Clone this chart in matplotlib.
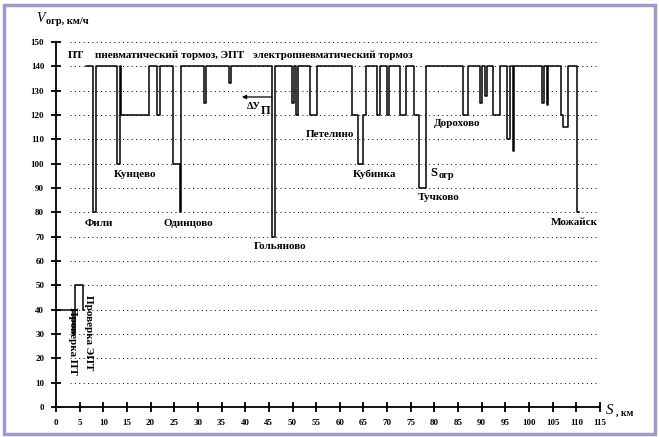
import numpy as np
import matplotlib.pyplot as plt
from matplotlib.patches import Rectangle

plt.rcParams['font.family'] = ['Liberation Serif', 'DejaVu Serif']

# участок проверки тормозов (км, скорость после точки)
proverka_km = [0.0, 3.6, 4.1, 5.8, 5.85]
proverka_v = [40, 30, 50, 40, 40]

# основной профиль ограничений скорости (км, скорость после точки)
profil_km = [6.3, 7.9, 8.5, 12.8, 13.5, 13.7, 19.7, 21.4, 22.0, 24.7, 26.2, 26.4,
             31.3, 31.7, 36.5, 37.0, 45.7, 46.3, 49.9, 50.3, 50.8, 51.2, 53.8, 55.2,
             62.6, 63.8, 65.0, 65.5, 67.8, 68.5, 70.0, 70.3, 72.7, 74.0, 75.6, 76.8,
             78.2, 86.0, 87.1, 89.6, 90.0, 90.7, 91.1, 92.4, 93.9, 95.3, 96.0, 96.6,
             96.9, 102.7, 103.1, 103.8, 104.0, 106.8, 107.2, 108.2, 110.1, 110.5]
profil_v = [140, 80, 140, 100, 140, 120, 140, 120, 140, 100, 80, 140,
            125, 140, 133, 140, 70, 140, 125, 140, 120, 140, 120, 140,
            120, 100, 120, 140, 120, 140, 120, 140, 120, 140, 120, 90,
            140, 120, 140, 125, 140, 128, 140, 120, 140, 110, 140, 105,
            140, 125, 140, 124, 140, 120, 115, 140, 80, 80]

# подписи станций: текст, км, скорость
stancii = ['Фили', 'Кунцево', 'Одинцово', 'Гольяново', 'Петелино',
           'Кубинка', 'Тучково', 'Дорохово', 'Можайск']
stancii_km = [9.0, 16.8, 27.9, 47.4, 58.0, 67.4, 81.0, 84.8, 109.6]
stancii_v = [75.5, 95.5, 75.5, 65.8, 112.0, 95.8, 86.3, 116.7, 76.0]

x_ticks = list(range(0, 120, 5))
y_ticks = list(range(0, 160, 10))

fig = plt.figure(figsize=(6.59, 4.37), dpi=100)
ax = fig.add_axes([56 / 659, 30 / 437, 544 / 659, 365 / 437])

# пунктирная сетка
for v in y_ticks[1:]:
    ax.plot([3, 115], [v, v], color='black', lw=0.7, linestyle=(0, (1, 3.5)), zorder=1)

ax.step(proverka_km, proverka_v, where='post', color='black', lw=1.1, zorder=3)
ax.step(profil_km, profil_v, where='post', color='black', lw=1.1, zorder=3)

ax.set_xlim(0, 115)
ax.set_ylim(0, 150)
ax.set_xticks(x_ticks)
ax.set_yticks(y_ticks)
ax.tick_params(direction='inout', length=7, width=1.3, labelsize=6.5, pad=5)
for lab in ax.get_xticklabels() + ax.get_yticklabels():
    lab.set_fontweight('bold')
for s in ['top', 'right']:
    ax.spines[s].set_visible(False)
for s in ['left', 'bottom']:
    ax.spines[s].set_linewidth(1.3)

# подписи
bold = dict(fontweight='bold', fontsize=8, color='black')
for name, km, v in zip(stancii, stancii_km, stancii_v):
    ax.text(km, v, name, ha='center', va='center', **bold)

ax.text(2.6, 144.5, 'ПТ', ha='left', va='center', **bold)
ax.text(8.3, 144.5, 'пневматический тормоз, ЭПТ', ha='left', va='center', **bold)
ax.text(41.6, 144.5, 'электропневматический тормоз', ha='left', va='center', **bold)

ax.text(79.2, 96.0, 'S', ha='left', va='center', fontsize=9, fontweight='bold')
ax.text(80.9, 95.2, 'огр', ha='left', va='center', fontsize=7.5, fontweight='bold')

ax.annotate('', xy=(39.3, 127.4), xytext=(45.7, 127.4),
            arrowprops=dict(arrowstyle='-|>', color='black', lw=0.9,
                            mutation_scale=6, shrinkA=0, shrinkB=0))
ax.text(40.3, 123.5, 'ΔУ', ha='left', va='center', fontsize=7.5, fontweight='bold')
ax.text(43.3, 121.8, 'П', ha='left', va='center', fontsize=9, fontweight='bold')

ax.text(3.5, 41, 'Проверка ПТ', rotation=270, ha='center', va='top', **bold)
ax.text(6.9, 46, 'Проверка ЭПТ', rotation=270, ha='center', va='top', **bold)

fig.text(36 / 659, 1 - 19 / 437, 'V', fontsize=10, fontstyle='italic',
         ha='left', va='center')
fig.text(46 / 659, 1 - 21 / 437, 'огр, км/ч', fontsize=7.5, fontweight='bold',
         ha='left', va='center')
fig.text(606 / 659, 1 - 411 / 437, 'S', fontsize=11, fontstyle='italic',
         ha='left', va='center')
fig.text(616 / 659, 1 - 413 / 437, ', км', fontsize=7, fontweight='bold',
         ha='left', va='center')

# рамка рисунка
fig.patches.append(Rectangle((4 / 659, 3 / 437), 651 / 659, 429 / 437,
                             transform=fig.transFigure, fill=False,
                             edgecolor='#9f9acb', lw=2.5))

fig.savefig('out.png', dpi=100)
